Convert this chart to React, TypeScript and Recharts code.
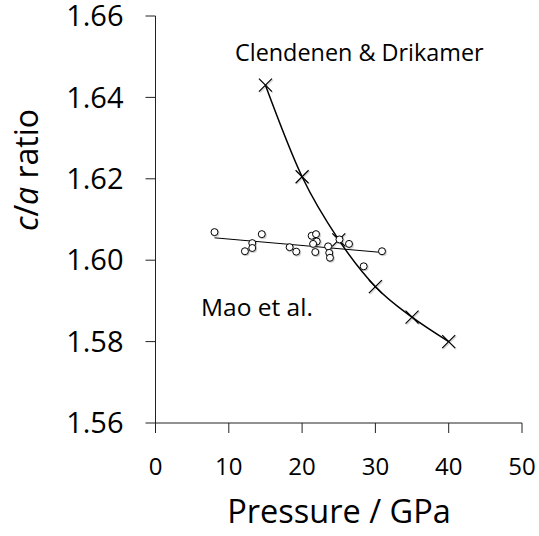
import { ComposedChart, Line, Scatter, XAxis, YAxis } from "recharts";

// Clendenen & Drikamer (crosses, smooth curve)
const cdPressure = [15, 20, 25, 30, 35, 40];
const cdRatio = [1.643, 1.6205, 1.605, 1.5935, 1.586, 1.58];

// Mao et al. (open circles)
const maoPressure = [
  8.05, 14.5, 13.2, 13.2, 12.2, 18.3, 19.2, 21.3, 21.9, 22.0, 21.5, 21.8, 23.55,
  23.7, 23.8, 25.1, 26.4, 28.4, 30.9,
];
const maoRatio = [
  1.6069, 1.6064, 1.6042, 1.603, 1.6022, 1.6032, 1.6021, 1.606, 1.6064, 1.6046,
  1.604, 1.602, 1.6034, 1.6018, 1.6006, 1.6051, 1.604, 1.5985, 1.6022,
];

// linear fit through Mao et al.
const fitPressure = [8.05, 30.9];
const fitRatio = [1.6055, 1.6019];

const xTicks = [0, 10, 20, 30, 40, 50];
const yTicks = [1.56, 1.58, 1.6, 1.62, 1.64, 1.66];

const cdData = cdPressure.map((x, i) => ({ x, y: cdRatio[i] }));
const maoData = maoPressure.map((x, i) => ({ x, y: maoRatio[i] }));
const fitData = fitPressure.map((x, i) => ({ x, y: fitRatio[i] }));

const FONT = "'Open Sans', sans-serif";

function CrossDot(props: any) {
  const { cx, cy, index } = props;
  if (cx == null || cy == null) return null;
  const s = 6.5;
  return (
    <g key={"c" + index}>
      <path
        d={`M${cx - s + 1},${cy - s + 1}L${cx + s + 1},${cy + s + 1}M${cx - s + 1},${cy + s + 1}L${cx + s + 1},${cy - s + 1}`}
        stroke="#000"
        strokeOpacity={0.15}
        strokeWidth={1.5}
      />
      <path
        d={`M${cx - s},${cy - s}L${cx + s},${cy + s}M${cx - s},${cy + s}L${cx + s},${cy - s}`}
        stroke="#000"
        strokeWidth={1.2}
      />
    </g>
  );
}

function CircleDot(props: any) {
  const { cx, cy } = props;
  return (
    <g>
      <circle cx={cx + 1} cy={cy + 1} r={4} fill="#000" fillOpacity={0.18} />
      <circle cx={cx} cy={cy} r={3.5} fill="#fff" stroke="#000" strokeWidth={1} />
    </g>
  );
}

export default function App() {
  return (
    <div style={{ position: "absolute", left: 0, top: 0, width: 539, height: 536, overflow: "hidden" }}>
      <ComposedChart
        width={539}
        height={536}
        margin={{ top: 16, right: 17, left: 0, bottom: 0 }}
        style={{ fontFamily: FONT, overflow: "visible" }}
      >
        <XAxis
          type="number"
          dataKey="x"
          domain={[0, 50]}
          ticks={xTicks}
          height={113}
          tickSize={10}
          tickMargin={25}
          stroke="#222"
          interval={0}
          tick={{ fontSize: 24, fill: "#000", fontFamily: FONT }}
        />
        <YAxis
          type="number"
          dataKey="y"
          domain={[1.56, 1.66]}
          ticks={yTicks}
          width={155.5}
          tickSize={10}
          tickMargin={22}
          stroke="#222"
          interval={0}
          tickFormatter={(v: number) => v.toFixed(2)}
          tick={{ fontSize: 29, fill: "#000", fontFamily: FONT }}
        />
        <Line
          data={fitData}
          dataKey="y"
          type="linear"
          stroke="#000"
          strokeWidth={1}
          dot={false}
          isAnimationActive={false}
        />
        <Line
          data={cdData}
          dataKey="y"
          type="monotoneX"
          stroke="#000"
          strokeWidth={1.5}
          dot={CrossDot}
          isAnimationActive={false}
        />
        <Scatter data={maoData} dataKey="y" shape={CircleDot} isAnimationActive={false} />
      </ComposedChart>
      <svg
        width={539}
        height={536}
        style={{ position: "absolute", left: 0, top: 0, pointerEvents: "none", fontFamily: FONT }}
      >
        <text x={235} y={61} fontSize={23.4} fill="#000">
          Clendenen &amp; Drikamer
        </text>
        <text x={201} y={316} fontSize={24.5} fill="#000">
          Mao et al.
        </text>
        <text x={339} y={523} fontSize={32.5} fill="#000" textAnchor="middle">
          Pressure / GPa
        </text>
        <text
          x={38}
          y={170}
          fontSize={32}
          fill="#000"
          textAnchor="middle"
          transform="rotate(-90 38 170)"
        >
          <tspan fontStyle="italic">c</tspan>/<tspan fontStyle="italic">a</tspan> ratio
        </text>
      </svg>
    </div>
  );
}
